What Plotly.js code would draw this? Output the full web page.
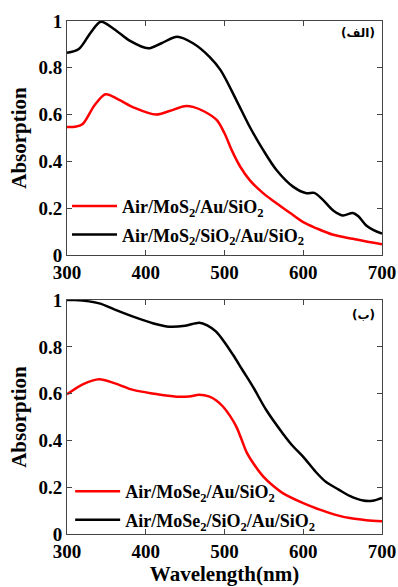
<!DOCTYPE html>
<html><head><meta charset="utf-8">
<script src="https://cdn.plot.ly/plotly-3.0.1.min.js"></script>
<style>html,body{margin:0;padding:0;background:#fff;}#plot{width:398px;height:587px;}</style>
</head><body><div id="plot"></div>
<script>
// Panel (الف): MoS2
const mos2_x_red = [300,310,320,335,349,365,385,413,430,449,460,475,490,500,509,520,532,549,566,583,600,616,638,663,680,700];
const mos2_y_red = [0.547,0.548,0.56,0.64,0.687,0.665,0.63,0.600,0.615,0.636,0.633,0.612,0.577,0.52,0.449,0.377,0.32,0.264,0.221,0.18,0.14,0.115,0.086,0.069,0.057,0.046];
const mos2_x_blk = [300,315,330,343,360,380,403,420,440,460,481,495,515,532,549,566,587,604,614,625,638,650,663,670,680,690,700];
const mos2_y_blk = [0.864,0.88,0.95,0.997,0.965,0.915,0.883,0.905,0.933,0.905,0.847,0.79,0.662,0.548,0.449,0.363,0.292,0.264,0.265,0.235,0.19,0.169,0.179,0.165,0.126,0.105,0.091];
// Panel (ب): MoSe2
const mose2_x_red = [300,320,341,360,384,410,439,455,468,481,490,498,507,515,521,528,537,549,562,574,600,621,640,659,680,700];
const mose2_y_red = [0.597,0.64,0.662,0.645,0.616,0.60,0.587,0.588,0.595,0.587,0.57,0.545,0.505,0.459,0.41,0.35,0.30,0.246,0.205,0.175,0.132,0.104,0.083,0.068,0.059,0.054];
const mose2_x_blk = [300,310,341,360,384,410,430,450,468,478,489,500,511,523,536,553,574,587,600,616,629,645,659,676,688,700];
const mose2_y_blk = [1.0,1.0,0.986,0.96,0.929,0.90,0.886,0.89,0.903,0.892,0.866,0.82,0.765,0.70,0.63,0.53,0.43,0.375,0.33,0.265,0.222,0.19,0.163,0.143,0.142,0.154];

const labels = {
  mos2_red: 'Air/MoS<sub>2</sub>/Au/SiO<sub>2</sub>',
  mos2_blk: 'Air/MoS<sub>2</sub>/SiO<sub>2</sub>/Au/SiO<sub>2</sub>',
  mose2_red: 'Air/MoSe<sub>2</sub>/Au/SiO<sub>2</sub>',
  mose2_blk: 'Air/MoSe<sub>2</sub>/SiO<sub>2</sub>/Au/SiO<sub>2</sub>'
};
const panelLabels = ['\u200E(الف)\u200E', '\u200E(ب)\u200E'];
const xTicks = [300,400,500,600,700];
const yTicks = [0,0.2,0.4,0.6,0.8,1];
const yTickText = ['0','0.2','0.4','0.6','0.8','1'];

const FAM = '"Liberation Serif","Times New Roman",serif';
const ln = (c) => ({color:c, width:2.5, shape:'spline', smoothing:0.9});
const traces = [
  {x:mos2_x_red, y:mos2_y_red, xaxis:'x', yaxis:'y', mode:'lines', line:ln('#ff0000'), name:labels.mos2_red, legend:'legend', legendgroup:'a1'},
  {x:mos2_x_blk, y:mos2_y_blk, xaxis:'x', yaxis:'y', mode:'lines', line:ln('#000000'), name:labels.mos2_blk, legend:'legend', legendgroup:'a2'},
  {x:mose2_x_red, y:mose2_y_red, xaxis:'x2', yaxis:'y2', mode:'lines', line:ln('#ff0000'), name:labels.mose2_red, legend:'legend2', legendgroup:'b1'},
  {x:mose2_x_blk, y:mose2_y_blk, xaxis:'x2', yaxis:'y2', mode:'lines', line:ln('#000000'), name:labels.mose2_blk, legend:'legend2', legendgroup:'b2'}
];
const tickFont = {family:FAM, size:19, color:'#000', weight:'bold'};
const titleFont = {family:FAM, size:21, color:'#000', weight:'bold'};
const xa = (anchor, title) => ({
  anchor:anchor, range:[300,700], tickvals:xTicks, ticktext:xTicks.map(String),
  ticks:'inside', ticklen:5, tickcolor:'#444', showline:true, linecolor:'#444', linewidth:1,
  mirror:'ticks', showgrid:false, zeroline:false, tickfont:tickFont,
  title:{text:title, font:titleFont, standoff:2}, fixedrange:true
});
const ya = (anchor, domain) => ({
  anchor:anchor, domain:domain, range:[0,1], tickvals:yTicks, ticktext:yTickText,
  ticks:'inside', ticklen:5, tickcolor:'#444', showline:true, linecolor:'#444', linewidth:1,
  mirror:'ticks', showgrid:false, zeroline:false, tickfont:tickFont,
  title:{text:'Absorption', font:titleFont, standoff:6}, fixedrange:true
});
const legFont = {family:FAM, size:18, color:'#000', weight:'bold'};
const legBase = {xanchor:'left', yanchor:'bottom', bgcolor:'rgba(0,0,0,0)', font:legFont, traceorder:'grouped', tracegroupgap:2, itemwidth:45};
const layout = {
  width:398, height:587,
  margin:{l:67, r:16, t:21, b:53},
  paper_bgcolor:'#fff', plot_bgcolor:'#fff',
  showlegend:true,
  xaxis: xa('y', ''),
  xaxis2: xa('y2', 'Wavelength(nm)'),
  yaxis: ya('x', [0.544,1]),
  yaxis2: ya('x2', [0,0.456]),
  legend:Object.assign({x:0.0, y:0.548}, legBase),
  legend2:Object.assign({x:0.01, y:-0.008}, legBase),
  annotations:[
    {xref:'paper', yref:'paper', x:0.985, y:0.994, xanchor:'right', yanchor:'top', showarrow:false,
     text:panelLabels[0], font:{family:'"DejaVu Sans",sans-serif', size:12, color:'#000', weight:'bold'}},
    {xref:'paper', yref:'paper', x:0.985, y:0.444, xanchor:'right', yanchor:'top', showarrow:false,
     text:panelLabels[1], font:{family:'"DejaVu Sans",sans-serif', size:12, color:'#000', weight:'bold'}}
  ]
};
Plotly.newPlot('plot', traces, layout, {displayModeBar:false, staticPlot:true});
</script></body></html>
